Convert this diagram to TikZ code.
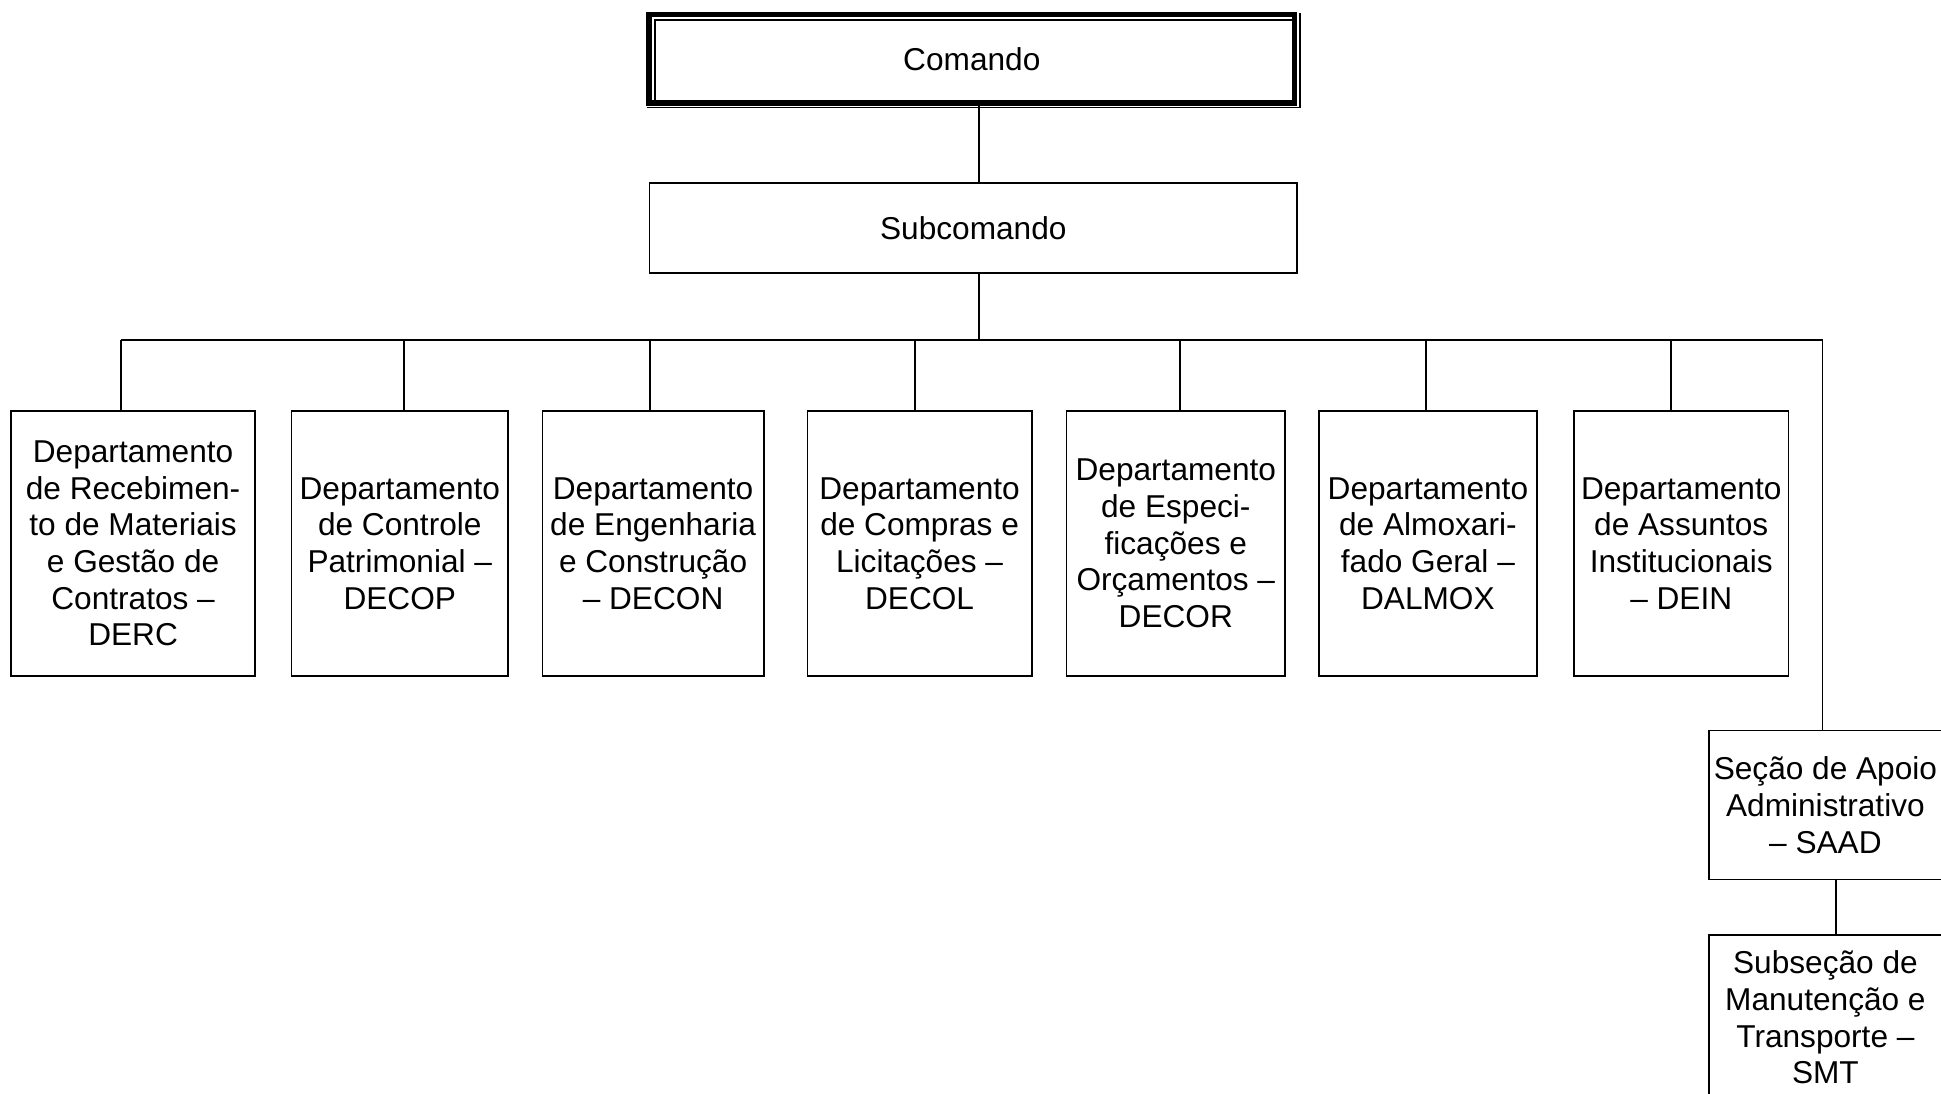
\documentclass[tikz,border=0pt]{standalone}
\usepackage{fontspec}
\setmainfont{Liberation Sans}

\begin{document}
\begin{tikzpicture}[x=0.02cm, y=-0.02cm, line width=0.9pt,
  box/.style={draw, inner sep=0pt, outer sep=0pt, align=center,
    font=\fontsize{18}{20.9}\selectfont},
  dept/.style={box, minimum height=265.3*0.02cm}]
  \useasboundingbox (0,0) rectangle (1941,1094);

  % draw command and subcommand
  \node [box, line width=3.1pt, minimum width=645.5*0.02cm, minimum height=88.5*0.02cm] (comando) at (971.8,58.8) {Comando};
  \draw ([shift={(5.7,-3)}]comando.south west) -- ([shift={(5.7,5.5)}]comando.north west) -- ([shift={(-2,5.5)}]comando.north east);
  \draw ([shift={(-2.5,4.3)}]comando.south west) -- ([shift={(5.5,4.3)}]comando.south east) -- ([shift={(5.5,-1.2)}]comando.north east);

  \node [box, minimum width=647.5*0.02cm, minimum height=90*0.02cm] (sub) at (973.3,228) {Subcomando};

  % draw departments
  \foreach \n/\cx/\w/\txt in {
    1/133.1/243.9/{Departamento\\de Recebimen-\\to de Materiais\\e Gestão de\\Contratos –\\DERC},
    2/399.8/216.9/{Departamento\\de Controle\\Patrimonial –\\DECOP},
    3/653.1/221.5/{Departamento\\de Engenharia\\e Construção\\– DECON},
    4/919.6/224.4/{Departamento\\de Compras e\\Licitações –\\DECOL},
    5/1175.8/218.4/{Departamento\\de Especi-\\ficações e\\Orçamentos –\\DECOR},
    6/1427.9/217.8/{Departamento\\de Almoxari-\\fado Geral –\\DALMOX},
    7/1681.2/214.7/{Departamento\\de Assuntos\\Institucionais\\– DEIN}}
  \node [dept, minimum width=\w*0.02cm] (dept-\n) at (\cx,543.4) {\txt};

  % draw sections
  \node [box, minimum width=233.4*0.02cm, minimum height=148.6*0.02cm] (saad) at (1825.4,805) {Seção de Apoio\\Administrativo\\– SAAD};
  \node [box, minimum width=233.4*0.02cm, minimum height=165*0.02cm] (smt) at (1825.4,1017.5) {Subseção de\\Manutenção e\\Transporte –\\SMT};

  % connectors
  \coordinate (trunk) at (979,340);
  \draw (trunk |- comando.south) -- (trunk |- sub.north);
  \draw (trunk |- sub.south) -- (trunk);

  \foreach \n/\bx in {1/120.9, 2/404, 3/650, 4/914.8, 5/1179.9, 6/1425.7, 7/1670.8}
  {
    \coordinate (bus-\n) at (\bx,340);
    \draw (bus-\n) -- (bus-\n |- dept-\n.north);
  }

  \coordinate (bus-r) at (1822.6,340);
  \draw (bus-1) -- (bus-r) -- (bus-r |- saad.north);

  \coordinate (link) at (1836,900);
  \draw (link |- saad.south) -- (link |- smt.north);

\end{tikzpicture}
\end{document}
